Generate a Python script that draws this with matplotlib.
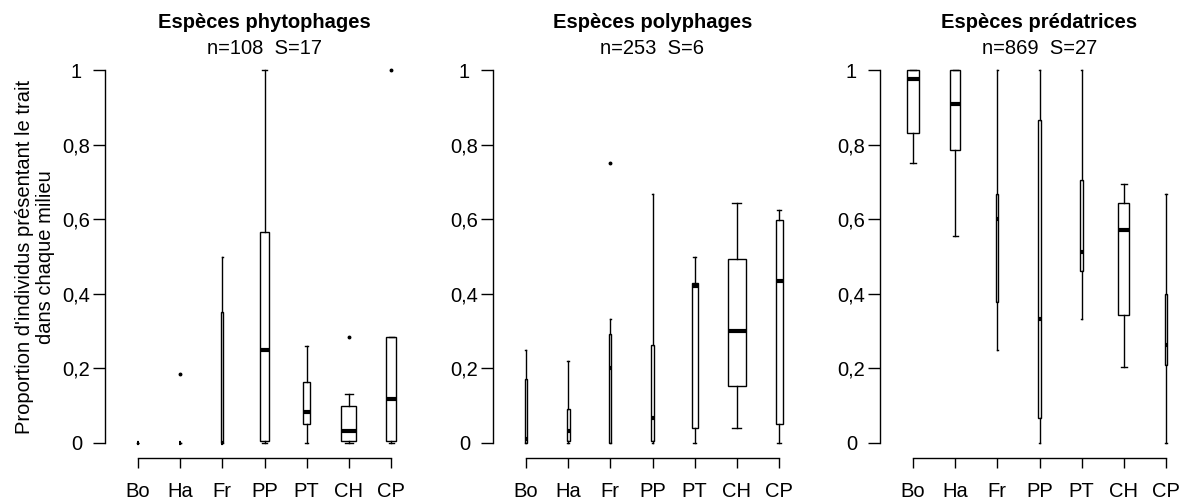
import matplotlib.pyplot as plt

plt.rcParams['font.family'] = ['Liberation Sans', 'DejaVu Sans']

habitats = ["Bo", "Ha", "Fr", "PP", "PT", "CH", "CP"]

# summaries per guild: lower whisker, Q1, median, Q3, upper whisker, outliers
phyto_lo = [0, 0, 0, 0, 0, 0, 0]
phyto_q1 = [0, 0, 0, 0.004, 0.05, 0.004, 0.004]
phyto_med = [0, 0, 0, 0.25, 0.082, 0.033, 0.119]
phyto_q3 = [0, 0, 0.35, 0.567, 0.164, 0.1, 0.283]
phyto_hi = [0, 0, 0.5, 1.0, 0.26, 0.132, 0.283]
phyto_out = [[], [0.185], [], [], [], [0.285], [1.0]]

poly_lo = [0, 0, 0, 0, 0, 0.041, 0]
poly_q1 = [0, 0.004, 0, 0.004, 0.04, 0.154, 0.05]
poly_med = [0.012, 0.033, 0.2, 0.068, 0.42, 0.30, 0.433]
poly_q3 = [0.172, 0.091, 0.292, 0.264, 0.428, 0.492, 0.598]
poly_hi = [0.25, 0.219, 0.333, 0.667, 0.5, 0.644, 0.626]
poly_out = [[], [], [0.75], [], [], [], []]

pred_lo = [0.75, 0.556, 0.25, 0, 0.333, 0.205, 0]
pred_q1 = [0.83, 0.785, 0.377, 0.067, 0.461, 0.342, 0.209]
pred_med = [0.977, 0.909, 0.6, 0.333, 0.511, 0.571, 0.264]
pred_q3 = [1.0, 1.0, 0.667, 0.867, 0.704, 0.644, 0.4]
pred_hi = [1.0, 1.0, 1.0, 1.0, 1.0, 0.694, 0.667]
pred_out = [[], [], [], [], [], [], []]

titles = ["Espèces phytophages", "Espèces polyphages", "Espèces prédatrices"]
subtitles = ["n=108  S=17", "n=253  S=6", "n=869  S=27"]

yticks = [0, 0.2, 0.4, 0.6, 0.8, 1]
yticklabels = ["0", "0,2", "0,4", "0,6", "0,8", "1"]

# box widths (x units), scaled with sample size
widths = [
    [0.047, 0.047, 0.047, 0.19, 0.166, 0.355, 0.237],
    [0.047, 0.071, 0.047, 0.071, 0.142, 0.427, 0.166],
    [0.284, 0.237, 0.047, 0.071, 0.071, 0.26, 0.059],
]

panels = [
    (phyto_lo, phyto_q1, phyto_med, phyto_q3, phyto_hi, phyto_out),
    (poly_lo, poly_q1, poly_med, poly_q3, poly_hi, poly_out),
    (pred_lo, pred_q1, pred_med, pred_q3, pred_hi, pred_out),
]

W, H = 1181, 499
fig = plt.figure(figsize=(W / 100, H / 100), dpi=100)

lefts = [105.1, 493.1, 880.1]
ax_w = 318.8
ax_bottom = (H - 457.9) / H
ax_h = 402.8 / H
fs = 14.5

for i, (lo, q1, med, q3, hi, out) in enumerate(panels):
    ax = fig.add_axes([lefts[i] / W, ax_bottom, ax_w / W, ax_h])
    stats = []
    for k in range(len(habitats)):
        stats.append(dict(whislo=lo[k], q1=q1[k], med=med[k], q3=q3[k],
                          whishi=hi[k], fliers=out[k], label=habitats[k]))
    w = widths[i]
    ax.bxp(stats, positions=range(1, 8), widths=w,
           capwidths=[0.5 * x for x in w],
           patch_artist=True,
           boxprops=dict(facecolor='white', edgecolor='black', linewidth=1.0),
           whiskerprops=dict(color='black', linewidth=1.0),
           capprops=dict(color='black', linewidth=1.0),
           medianprops=dict(color='black', linewidth=3, solid_capstyle='butt'),
           flierprops=dict(marker='o', markersize=1.8, markerfacecolor='black',
                           markeredgecolor='black'))

    ax.set_xlim(0.22, 7.78)
    ax.set_ylim(-0.04, 1.04)
    for s in ['top', 'right']:
        ax.spines[s].set_visible(False)
    ax.spines['left'].set_bounds(0, 1)
    ax.spines['bottom'].set_bounds(1, 7)
    ax.spines['left'].set_linewidth(1.0)
    ax.spines['bottom'].set_linewidth(1.0)

    ax.set_xticks(range(1, 8))
    ax.set_xticklabels(habitats, fontsize=fs)
    ax.set_yticks(yticks)
    ax.set_yticklabels(yticklabels, fontsize=fs)
    ax.tick_params(axis='x', length=7.2, width=1.0, pad=10)
    ax.tick_params(axis='y', length=8.6, width=1.0, pad=12)
    for lab in ax.get_yticklabels():
        lab.set_ha('center')

    cx = (lefts[i] + ax_w / 2) / W
    fig.text(cx, 1 - 22 / H, titles[i], ha='center', va='center',
             fontsize=fs, fontweight='bold')
    fig.text(cx, 1 - 48 / H, subtitles[i], ha='center', va='center',
             fontsize=fs)

fig.text(35 / W, 1 - 257 / H,
         "Proportion d'individus présentant le trait\ndans chaque milieu",
         rotation=90, ha='center', va='center', multialignment='center',
         fontsize=fs, linespacing=1.1)

fig.savefig("out.png", dpi=100)
